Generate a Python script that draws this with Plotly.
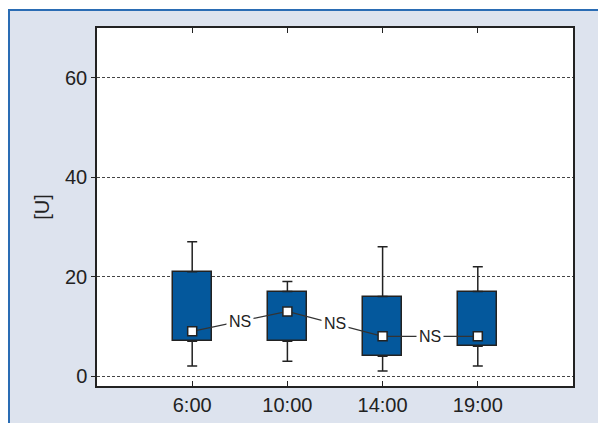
import plotly.graph_objects as go

categories = ["6:00", "10:00", "14:00", "19:00"]
q1 = [7, 7, 4, 6]
median = [9, 13, 8, 8]
q3 = [21, 17, 16, 17]
lower = [2, 3, 1, 2]
upper = [27, 19, 26, 22]
sig_labels = ["NS", "NS", "NS"]
y_ticks = [0, 20, 40, 60]

FONT = "Liberation Sans, Arial, Helvetica, sans-serif"
BOX = "#04589c"
DARK = "#222222"
PANEL = "#dde3ee"
BLUE = "#2a6cb4"

W, H = 598, 423
L, R, T, B = 97, 25, 28, 37
pw, ph = W - L - R, H - T - B

def px_x(x):
    return (x - L) / pw

def px_y(y):
    return (H - B - y) / ph

fig = go.Figure()

fig.add_trace(go.Bar(
    x=categories, y=[b - a for a, b in zip(q1, q3)], base=q1, width=0.41,
    marker=dict(color=BOX, line=dict(color=DARK, width=1.5)),
    showlegend=False, hoverinfo="skip"))

fig.add_trace(go.Scatter(
    x=categories, y=q3, mode="markers",
    marker=dict(size=1, color="rgba(0,0,0,0)"),
    error_y=dict(type="data", symmetric=False,
                 array=[u - b for u, b in zip(upper, q3)],
                 arrayminus=[0] * len(q3), color=DARK, thickness=1.5, width=5),
    showlegend=False, hoverinfo="skip"))

fig.add_trace(go.Scatter(
    x=categories, y=q1, mode="markers",
    marker=dict(size=1, color="rgba(0,0,0,0)"),
    error_y=dict(type="data", symmetric=False,
                 array=[0] * len(q1),
                 arrayminus=[a - l for a, l in zip(q1, lower)], color=DARK, thickness=1.5, width=5),
    showlegend=False, hoverinfo="skip"))

fig.add_trace(go.Scatter(
    x=categories, y=median, mode="lines+markers",
    line=dict(color="#333333", width=1.2),
    marker=dict(symbol="square", size=9, color="white", line=dict(color=DARK, width=1.5)),
    showlegend=False))

for i, lab in enumerate(sig_labels):
    fig.add_annotation(
        x=i + 0.5, y=(median[i] + median[i + 1]) / 2, text=lab, showarrow=False,
        font=dict(family=FONT, size=16, color="#222222"),
        bgcolor="white", borderpad=2)

shapes = [
    dict(type="rect", xref="paper", yref="paper", x0=px_x(-5), x1=px_x(W + 5), y0=px_y(-5), y1=px_y(9),
         fillcolor="white", line=dict(width=0), layer="below"),
    dict(type="rect", xref="paper", yref="paper", x0=px_x(-5), x1=px_x(8), y0=px_y(-5), y1=px_y(H + 5),
         fillcolor="white", line=dict(width=0), layer="below"),
    dict(type="line", xref="paper", yref="paper", x0=px_x(8), x1=px_x(W + 5), y0=px_y(10), y1=px_y(10),
         line=dict(color=BLUE, width=2), layer="below"),
    dict(type="line", xref="paper", yref="paper", x0=px_x(9), x1=px_x(9), y0=px_y(10), y1=px_y(H + 5),
         line=dict(color=BLUE, width=2), layer="below"),
]

fig.update_layout(
    width=W, height=H,
    margin=dict(l=L, r=R, t=T, b=B, pad=0),
    paper_bgcolor=PANEL, plot_bgcolor="white",
    font=dict(family=FONT, size=20, color="#222222"),
    shapes=shapes,
    bargap=0,
)

fig.update_xaxes(
    type="category", range=[-1, 4], automargin=False,
    showline=True, linecolor=DARK, linewidth=1.5, mirror="ticks",
    ticks="inside", ticklen=5, tickcolor=DARK, tickwidth=1.2,
    showgrid=False, tickfont=dict(family=FONT, size=20, color="#222222"),
)

fig.update_yaxes(
    range=[-2, 70], tickvals=y_ticks, automargin=False,
    showline=True, linecolor=DARK, linewidth=1.5, mirror=True,
    ticks="outside", ticklen=4, tickcolor=DARK, tickwidth=1.2,
    showgrid=True, gridcolor="#444444", gridwidth=1, griddash="3px,2px",
    zeroline=False,
    tickfont=dict(family=FONT, size=20, color="#222222"),
    title=dict(text="[U]", font=dict(family=FONT, size=20, color="#222222"), standoff=10),
)

fig.write_html("out.html", config={"displayModeBar": False},
               post_script="document.body.style.margin='0px';")
